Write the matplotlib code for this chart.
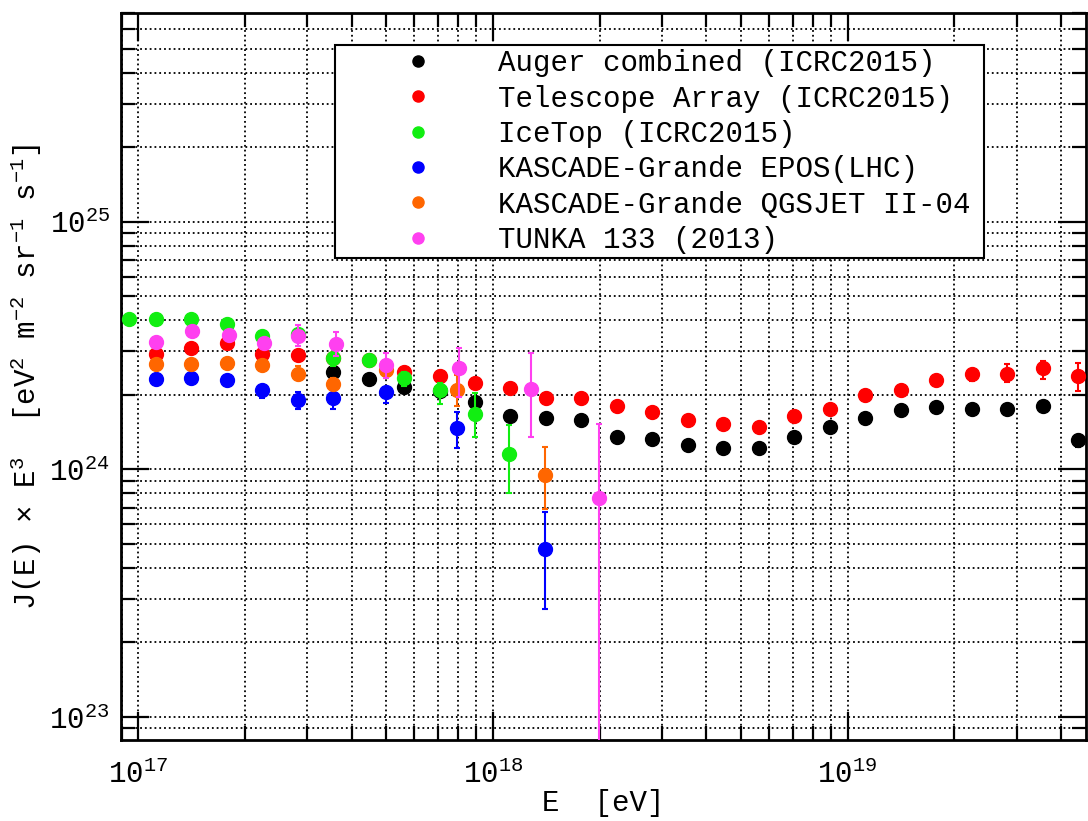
import matplotlib
matplotlib.use("Agg")
import matplotlib.pyplot as plt
import numpy as np
from matplotlib.ticker import LogLocator, NullFormatter

plt.rcParams['font.family'] = ['Liberation Mono', 'DejaVu Sans Mono']
plt.rcParams['mathtext.default'] = 'regular'

# Auger combined (ICRC2015)
auger_E = [3.548e17, 4.467e17, 5.623e17, 7.079e17, 8.913e17, 1.122e18, 1.413e18,
           1.778e18, 2.239e18, 2.818e18, 3.548e18, 4.467e18, 5.623e18, 7.079e18,
           8.913e18, 1.122e19, 1.413e19, 1.778e19, 2.239e19, 2.818e19, 3.548e19,
           4.467e19]
auger_J = [2.47e24, 2.31e24, 2.16e24, 2.07e24, 1.87e24, 1.65e24, 1.62e24,
           1.58e24, 1.35e24, 1.33e24, 1.26e24, 1.22e24, 1.22e24, 1.35e24,
           1.48e24, 1.62e24, 1.73e24, 1.78e24, 1.76e24, 1.76e24, 1.80e24,
           1.31e24]
auger_err_lo = [0] * 21 + [0.08e24]
auger_err_hi = [0] * 21 + [0.07e24]

# Telescope Array (ICRC2015)
ta_E = [1.122e17, 1.413e17, 1.778e17, 2.239e17, 2.818e17, 3.548e17, 4.467e17,
        5.623e17, 7.079e17, 8.913e17, 1.122e18, 1.413e18, 1.778e18, 2.239e18,
        2.818e18, 3.548e18, 4.467e18, 5.623e18, 7.079e18, 8.913e18, 1.122e19,
        1.413e19, 1.778e19, 2.239e19, 2.818e19, 3.548e19, 4.467e19]
ta_J = [2.92e24, 3.08e24, 3.23e24, 2.92e24, 2.89e24, 2.81e24, 2.78e24,
        2.47e24, 2.38e24, 2.23e24, 2.14e24, 1.94e24, 1.95e24, 1.81e24,
        1.70e24, 1.58e24, 1.53e24, 1.48e24, 1.65e24, 1.76e24, 1.99e24,
        2.09e24, 2.29e24, 2.44e24, 2.44e24, 2.56e24, 2.38e24]
ta_err_lo = [0] * 22 + [0.07e24, 0.17e24, 0.19e24, 0.25e24, 0.31e24]
ta_err_hi = [0] * 22 + [0.07e24, 0.10e24, 0.22e24, 0.17e24, 0.30e24]

# IceTop (ICRC2015)
ice_E = [9.44e16, 1.122e17, 1.413e17, 1.778e17, 2.239e17, 2.818e17, 3.548e17,
         4.467e17, 5.623e17, 7.079e17, 8.913e17, 1.110e18]
ice_J = [4.07e24, 4.04e24, 4.04e24, 3.85e24, 3.45e24, 3.51e24, 2.81e24,
         2.76e24, 2.33e24, 2.09e24, 1.68e24, 1.15e24]
ice_err_lo = [0, 0, 0, 0, 0, 0.15e24, 0.2e24, 0.15e24, 0.15e24, 0.25e24, 0.33e24, 0.35e24]
ice_err_hi = [0, 0, 0, 0, 0, 0.15e24, 0.1e24, 0.15e24, 0.15e24, 0.15e24, 0.35e24, 0.36e24]

# KASCADE-Grande EPOS(LHC)
epos_E = [1.122e17, 1.413e17, 1.778e17, 2.239e17, 2.818e17, 3.548e17,
          5.00e17, 7.93e17, 1.40e18]
epos_J = [2.31e24, 2.35e24, 2.29e24, 2.09e24, 1.90e24, 1.94e24,
          2.05e24, 1.47e24, 4.75e23]
epos_err_lo = [0, 0, 0, 0.15e24, 0.14e24, 0.19e24, 0.20e24, 0.25e24, 2.01e23]
epos_err_hi = [0, 0, 0, 0.07e24, 0.15e24, 0.16e24, 0.07e24, 0.24e24, 1.95e23]

# KASCADE-Grande QGSJET II-04
qgs_E = [1.122e17, 1.413e17, 1.778e17, 2.239e17, 2.818e17, 3.548e17,
         5.00e17, 7.93e17, 1.40e18]
qgs_J = [2.66e24, 2.66e24, 2.68e24, 2.63e24, 2.44e24, 2.22e24,
         2.51e24, 2.10e24, 9.5e23]
qgs_err_lo = [0, 0, 0, 0.12e24, 0.15e24, 0.10e24, 0.18e24, 0.29e24, 2.6e23]
qgs_err_hi = [0, 0, 0, 0.05e24, 0.17e24, 0.11e24, 0.17e24, 0.30e24, 2.8e23]

# TUNKA 133 (2013)
tunka_E = [1.125e17, 1.420e17, 1.810e17, 2.265e17, 2.825e17, 3.614e17,
           5.00e17, 8.02e17, 1.28e18, 1.99e18]
tunka_J = [3.26e24, 3.61e24, 3.48e24, 3.23e24, 3.45e24, 3.20e24,
           2.63e24, 2.56e24, 2.12e24, 7.64e23]
tunka_err_lo = [0, 0, 0, 0, 0.31e24, 0.34e24, 0.30e24, 0.59e24, 0.77e24, 7.6e23]
tunka_err_hi = [0, 0, 0, 0, 0.37e24, 0.38e24, 0.31e24, 0.52e24, 0.82e24, 7.6e23]

series = [
    ("Auger combined (ICRC2015)", auger_E, auger_J, auger_err_lo, auger_err_hi, '#000000'),
    ("Telescope Array (ICRC2015)", ta_E, ta_J, ta_err_lo, ta_err_hi, '#ff0000'),
    ("IceTop (ICRC2015)", ice_E, ice_J, ice_err_lo, ice_err_hi, '#11ee11'),
    ("KASCADE-Grande EPOS(LHC)", epos_E, epos_J, epos_err_lo, epos_err_hi, '#0000ff'),
    ("KASCADE-Grande QGSJET II-04", qgs_E, qgs_J, qgs_err_lo, qgs_err_hi, '#ff6600'),
    ("TUNKA 133 (2013)", tunka_E, tunka_J, tunka_err_lo, tunka_err_hi, '#ff40f0'),
]

fig = plt.figure(figsize=(10.88, 8.21), dpi=100)
ax = fig.add_axes([0.1112, 0.0987, 0.887, 0.8858])

z = 3
for label, E, J, lo, hi, color in series:
    # bars first, then the dots on top; only the dots go in the legend
    ax.errorbar(E, J, yerr=[lo, hi], fmt='none', ecolor=color,
                elinewidth=1.5, capsize=2.5, capthick=1.5, zorder=z)
    ax.plot(E, J, 'o', color=color, ms=10, label=label, zorder=z + 0.5)
    z += 1

ax.set_xscale('log')
ax.set_yscale('log')
ax.set_xlim(8.96e16, 4.7e19)
ax.set_ylim(8.07e22, 7.0e25)

for axis in (ax.xaxis, ax.yaxis):
    axis.set_major_locator(LogLocator(base=10))
    axis.set_minor_locator(LogLocator(base=10, subs=np.arange(2, 10)))
    axis.set_minor_formatter(NullFormatter())

ax.grid(True, which='both', color='black', linestyle=':', linewidth=1.3)
ax.set_axisbelow(True)

ax.tick_params(which='both', direction='in', top=True, right=True, width=1.6)
ax.tick_params(which='major', length=20, labelsize=21)
ax.tick_params(which='minor', length=10)
ax.tick_params(axis='x', pad=14)
ax.tick_params(axis='y', pad=8)
for sp in ax.spines.values():
    sp.set_linewidth(2)

ax.set_xlabel("E  [eV]", fontsize=21, labelpad=0)
ax.set_ylabel("J(E) \u00d7 E$^{3}$  [eV$^{2}$ m$^{-2}$ sr$^{-1}$ s$^{-1}$]",
              fontsize=21, labelpad=4)

leg = ax.legend(loc='upper left', bbox_to_anchor=(0.2218, 0.5, 0.6725, 0.4556),
                mode='expand', borderaxespad=0, fontsize=21, markerscale=0.8,
                handlelength=5.4, handletextpad=0.05, borderpad=0.15,
                labelspacing=0.25, fancybox=False, framealpha=1, edgecolor='black')
leg.get_frame().set_linewidth(1.5)

fig.savefig("out.png", dpi=100)
